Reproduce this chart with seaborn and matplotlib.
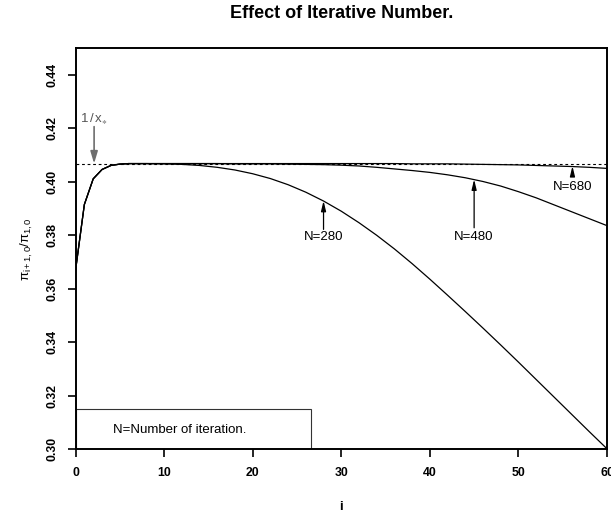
import numpy as np
import pandas as pd
import matplotlib
matplotlib.use("Agg")
import matplotlib.pyplot as plt
import seaborn as sns
from matplotlib.patches import Rectangle

# Iteration index
iters = [0, 1, 2, 3, 4, 5, 6, 8, 10, 12, 14, 16, 18, 20, 22, 24, 26, 28, 30,
         32, 34, 36, 38, 40, 42, 44, 46, 48, 50, 52, 54, 56, 58, 60]

# pi_{i+1,0}/pi_{1,0} for each number of iterations N
ratio_n280 = [0.3668, 0.3915, 0.4011, 0.4046, 0.4061, 0.4066, 0.4068, 0.4068,
              0.4067, 0.4065, 0.4061, 0.4054, 0.4044, 0.4030, 0.4012, 0.3989,
              0.3961, 0.3928, 0.3890, 0.3847, 0.3800, 0.3749, 0.3694, 0.3636,
              0.3576, 0.3515, 0.3453, 0.3390, 0.3326, 0.3261, 0.3196, 0.3131,
              0.3066, 0.3002]
ratio_n480 = [0.3668, 0.3915, 0.4011, 0.4046, 0.4061, 0.4066, 0.4068, 0.4068,
              0.4068, 0.4068, 0.4068, 0.4068, 0.4067, 0.4067, 0.4067, 0.4066,
              0.4065, 0.4064, 0.4062, 0.4059, 0.4054, 0.4048, 0.4042, 0.4035,
              0.4026, 0.4015, 0.4001, 0.3984, 0.3963, 0.3940, 0.3914, 0.3888,
              0.3862, 0.3836]
ratio_n680 = [0.3668, 0.3915, 0.4011, 0.4046, 0.4061, 0.4066, 0.4068, 0.4068,
              0.4068, 0.4068, 0.4068, 0.4068, 0.4068, 0.4068, 0.4068, 0.4068,
              0.4068, 0.4068, 0.4068, 0.4068, 0.4068, 0.4068, 0.4067, 0.4067,
              0.4067, 0.4066, 0.4065, 0.4064, 0.4063, 0.4061, 0.4059, 0.4057,
              0.4054, 0.4050]
series_names = ["N=280", "N=480", "N=680"]

limit_value = 0.4068          # 1/x*
x_ticks = [0, 10, 20, 30, 40, 50, 60]
y_ticks = [0.30, 0.32, 0.34, 0.36, 0.38, 0.40, 0.42, 0.44]

# Annotation arrows: (label, i, arrow tip, arrow tail, label y)
arrow_notes = [
    ("N=280", 28.0, 0.3929, 0.3822, 0.3792),
    ("N=480", 45.0, 0.4009, 0.3828, 0.3792),
    ("N=680", 56.1, 0.4059, 0.4026, 0.3981),
]

df = pd.DataFrame({
    "i": iters * 3,
    "ratio": ratio_n280 + ratio_n480 + ratio_n680,
    "N": np.repeat(series_names, len(iters)),
})

sns.set_theme(style="ticks")
plt.rcParams["font.family"] = ["Liberation Sans", "DejaVu Sans"]
plt.rcParams["text.color"] = "black"
plt.rcParams["axes.labelcolor"] = "black"
plt.rcParams["mathtext.fontset"] = "custom"
plt.rcParams["mathtext.rm"] = "Liberation Sans"
plt.rcParams["mathtext.it"] = "Liberation Sans:italic"
plt.rcParams["mathtext.bf"] = "Liberation Sans:bold"

fig = plt.figure(figsize=(6.11, 5.16), dpi=100)
ax = fig.add_axes([75.5 / 611, 1 - 449.3 / 516, (607 - 75.5) / 611, (449.3 - 48) / 516])

sns.lineplot(data=df, x="i", y="ratio", hue="N",
             palette=["black", "black", "black"], linewidth=0.9,
             legend=False, ax=ax)

ax.axhline(limit_value, color="black", linestyle=(0, (2.5, 2.5)), linewidth=0.8)

ax.set_xlim(0, 60)
ax.set_ylim(0.30, 0.45)
ax.set_xticks(x_ticks)
ax.set_yticks(y_ticks)
ax.set_xticklabels([str(t) for t in x_ticks])
ax.set_yticklabels([f"{t:.2f}" for t in y_ticks])

for s in ax.spines.values():
    s.set_visible(True)
    s.set_linewidth(1.4)
    s.set_color("black")
ax.tick_params(axis="both", length=5.5, width=1.2, color="black",
               labelsize=8.8, pad=7, labelcolor="black")
ax.tick_params(axis="y", labelrotation=90)
for lab in ax.get_xticklabels() + ax.get_yticklabels():
    lab.set_fontweight("bold")
for lab in ax.get_yticklabels():
    lab.set_va("center")

ax.set_xlabel("i", fontsize=9.5, fontweight="bold", labelpad=16, color="black")
ax.set_ylabel(r"$\mathregular{\pi_{i+1,0}/\pi_{1,0}}$", fontsize=9.5,
              labelpad=8, color="black")

# 1/x* marker
ax.annotate("", xy=(2.1, limit_value), xytext=(2.1, 0.4206),
            arrowprops=dict(arrowstyle="-|>,head_length=0.6,head_width=0.18",
                            color="#6e6e6e", lw=1.2, shrinkA=0, shrinkB=0))
ax.text(2.1, 0.4237, r"$\mathregular{1\,/\,x_{\ast}}$", color="#555555",
        fontsize=9.5, ha="center", va="center")

for label, xi, tip, tail, ly in arrow_notes:
    ax.annotate("", xy=(xi, tip), xytext=(xi, tail),
                arrowprops=dict(arrowstyle="-|>,head_length=0.5,head_width=0.12",
                                color="black", lw=0.9, shrinkA=0, shrinkB=0))
    ax.text(xi, ly, label, fontsize=9.5, ha="center", va="center", color="black")

# Note box in the lower left corner
ax.add_patch(Rectangle((0, 0.30), 26.6, 0.0152, fill=False,
                       edgecolor="#333333", linewidth=0.8))
ax.text(11.8, 0.3072, "N=Number of iteration.", fontsize=9.5,
        ha="center", va="center", color="black")

fig.text((75.5 + 607) / 2 / 611, 1 - 13 / 516, "Effect of Iterative Number.",
         fontsize=13, fontweight="bold", ha="center", va="center", color="black")

fig.savefig("out.png", dpi=100)
